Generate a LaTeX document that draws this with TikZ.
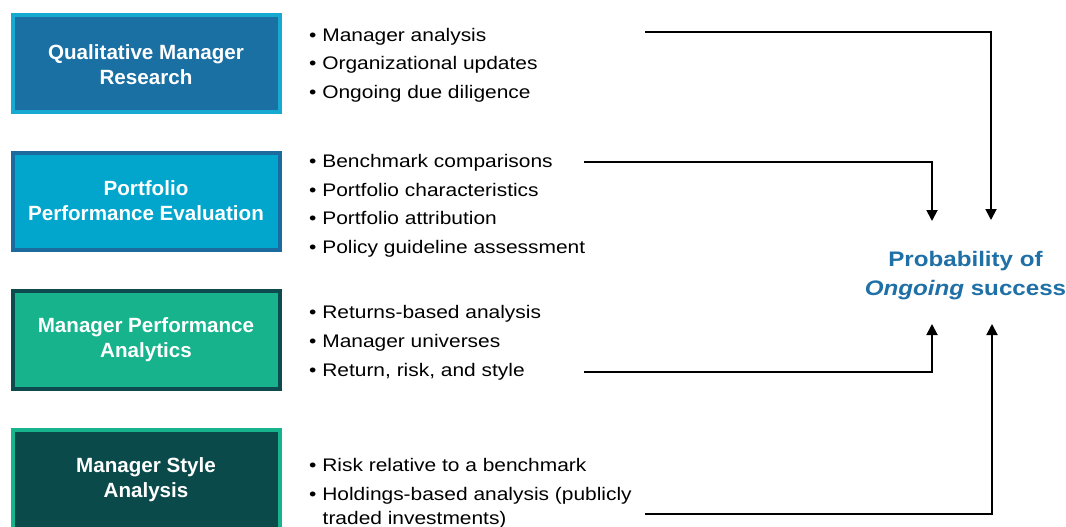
\documentclass[tikz,border=0pt]{standalone}
\usepackage{fontspec}
\setmainfont{Liberation Sans}
\newfontfamily\stretchfont{Liberation Sans}[FakeStretch=1.15]
\usetikzlibrary{arrows.meta}
\definecolor{boxA}{RGB}{26,111,163}
\definecolor{boxAb}{RGB}{22,170,210}
\definecolor{boxB}{RGB}{2,165,203}
\definecolor{boxBb}{RGB}{27,107,158}
\definecolor{boxC}{RGB}{22,179,141}
\definecolor{boxCb}{RGB}{14,75,78}
\definecolor{boxD}{RGB}{11,74,75}
\definecolor{boxDb}{RGB}{22,179,141}
\definecolor{titleblue}{RGB}{30,112,166}
\tikzset{
  boxtext/.style={text=white, align=center, font=\bfseries\fontsize{20.6}{25}\selectfont, inner sep=0pt},
  bul/.style={anchor=base west, inner sep=0pt, font=\stretchfont\fontsize{18.2}{22}\selectfont},
  conn/.style={line width=1.9pt, -{Triangle[width=11pt,length=11pt]}},
}
\begin{document}
\begin{tikzpicture}[x=1pt,y=-1pt]
\path[use as bounding box, fill=white] (0,0) rectangle (1066,527);
% boxes
\draw[line width=4pt, draw=boxAb, fill=boxA] (13,15) rectangle (280,112);
\draw[line width=4pt, draw=boxBb, fill=boxB] (13,153) rectangle (280,250);
\draw[line width=4pt, draw=boxCb, fill=boxC] (13,291) rectangle (280,389);
\draw[line width=4pt, draw=boxDb, fill=boxD] (13,430) rectangle (280,532);
\node[boxtext] (b1) at (146,64.5) {Qualitative Manager\\Research};
\node[boxtext] (b2) at (146,201) {Portfolio\\Performance Evaluation};
\node[boxtext] (b3) at (146,339.5) {Manager Performance\\Analytics};
\node[boxtext] (b4) at (146,479.5) {Manager Style\\Analysis};
% bullets
\node[bul] (l11) at (309,41.5) {\textbullet\ Manager analysis};
\node[bul] (l12) at (309,70) {\textbullet\ Organizational updates};
\node[bul] (l13) at (309,98.5) {\textbullet\ Ongoing due diligence};
\node[bul] (l21) at (309,167) {\textbullet\ Benchmark comparisons};
\node[bul] (l22) at (309,196) {\textbullet\ Portfolio characteristics};
\node[bul] (l23) at (309,224.5) {\textbullet\ Portfolio attribution};
\node[bul] (l24) at (309,253) {\textbullet\ Policy guideline assessment};
\node[bul] (l31) at (309,318.5) {\textbullet\ Returns-based analysis};
\node[bul] (l32) at (309,347) {\textbullet\ Manager universes};
\node[bul] (l33) at (309,376) {\textbullet\ Return, risk, and style};
\node[bul] (l41) at (309,471.5) {\textbullet\ Risk relative to a benchmark};
\node[bul] (l42) at (309,500) {\textbullet\ Holdings-based analysis (publicly};
\node[bul] (l43) at (322.5,524) {traded investments)};
% result
\node[text=titleblue, align=center, inner sep=0pt, font=\stretchfont\bfseries\fontsize{21}{29}\selectfont] (prob) at (965.5,276) {Probability of\\\textit{Ongoing} success};
% connector coordinates
\coordinate (s1) at (645,32);
\coordinate (s2) at (584,162);
\coordinate (s3) at (584,372);
\coordinate (s4) at (645,514);
\coordinate (t1) at (991,220);
\coordinate (t2) at (932,221);
\coordinate (t3) at (932,324);
\coordinate (t4) at (992,324);
\draw[conn] (s1) -| (t1);
\draw[conn] (s2) -| (t2);
\draw[conn] (s3) -| (t3);
\draw[conn] (s4) -| (t4);
\end{tikzpicture}
\end{document}
